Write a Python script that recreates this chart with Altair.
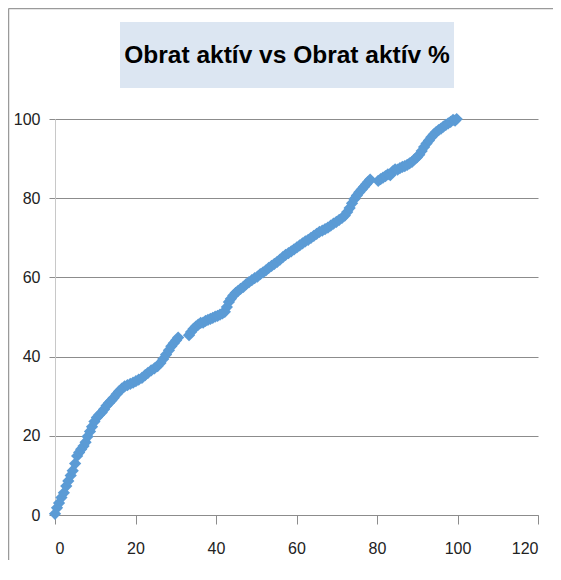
import altair as alt
import pandas as pd

# Segment 1
x1 = [0, 0.5, 1.0, 1.6, 2.2, 2.8, 3.3, 3.9, 4.4, 5.0, 5.5, 6.0, 6.5, 7.1, 7.6, 8.1, 8.7, 9.2, 9.8,
      10.4, 11.0, 11.6, 12.2, 12.8, 13.4, 14.0, 14.6, 15.3, 15.9, 16.6, 17.3, 18.0, 18.7, 19.4,
      20.1, 20.8, 21.6, 22.4, 23.1, 23.9, 24.7, 25.5, 26.2, 26.9, 27.6, 28.3, 28.9, 29.5, 30.1, 30.6]
y1 = [0.3, 1.8, 3.0, 4.4, 5.6, 7.3, 8.6, 10.0, 11.2, 13.0, 14.9, 15.8, 16.6, 17.4, 18.4, 19.8, 21.1,
      22.3, 23.6, 24.6, 25.3, 25.9, 26.7, 27.6, 28.3, 28.9, 29.6, 30.5, 31.2, 31.9, 32.5, 32.8, 33.1,
      33.4, 33.8, 34.2, 34.6, 35.3, 35.9, 36.5, 37.0, 37.6, 38.4, 39.4, 40.5, 41.6, 42.6, 43.4, 44.1, 44.8]

# Segment 2
x2 = [33.3, 33.8, 34.4, 35.0, 35.6, 36.2, 36.8, 37.4, 38.0, 38.6, 39.2, 39.8, 40.4, 41.0, 41.6, 42.2,
      42.7, 43.2, 43.7, 44.3, 44.9, 45.5, 46.1, 46.8, 47.5, 48.2, 48.9, 49.6, 50.3, 51.0, 51.7, 52.4,
      53.1, 53.8, 54.5, 55.2, 55.9, 56.6, 57.3, 58.0, 58.7, 59.4, 60.1, 60.8, 61.5, 62.2, 62.9, 63.6,
      64.3, 65.0, 65.7, 66.4, 67.1, 67.8, 68.5, 69.2, 69.9, 70.6, 71.3, 72.0, 72.6, 73.2, 73.8, 74.4,
      75.0, 75.6, 76.2, 76.8, 77.3, 77.8, 78.3]
y2 = [45.4, 46.2, 47.0, 47.6, 48.1, 48.5, 48.6, 49.0, 49.3, 49.5, 49.8, 50.1, 50.3, 50.6, 50.9, 51.3,
      52.5, 53.8, 54.6, 55.4, 56.1, 56.6, 57.1, 57.6, 58.3, 58.8, 59.3, 59.8, 60.2, 60.8, 61.3, 61.8,
      62.4, 62.9, 63.4, 63.9, 64.5, 65.1, 65.7, 66.1, 66.6, 67.1, 67.6, 68.1, 68.6, 69.1, 69.5, 70.0,
      70.5, 71.0, 71.5, 71.8, 72.2, 72.6, 73.1, 73.6, 74.0, 74.5, 75.0, 75.6, 76.5, 77.5, 78.7, 79.8,
      80.7, 81.5, 82.2, 82.9, 83.5, 84.1, 84.7]

# Segment 3
x3 = [80.3, 80.9, 81.5, 82.1, 82.7, 83.3, 83.9, 84.5, 85.1, 85.7, 86.3, 86.9, 87.5, 88.1, 88.7, 89.3,
      89.9, 90.5, 91.1, 91.7, 92.3, 92.9, 93.5, 94.1, 94.7, 95.3, 95.9, 96.5, 97.1, 97.7, 98.3, 98.9,
      99.4, 99.8]
y3 = [84.4, 84.8, 85.2, 85.6, 86.0, 85.8, 86.8, 87.3, 87.2, 87.6, 87.9, 88.1, 88.4, 88.8, 89.2, 89.8,
      90.3, 91.0, 91.9, 92.9, 93.8, 94.6, 95.4, 96.1, 96.7, 97.2, 97.6, 98.1, 98.5, 98.9, 99.3, 99.8,
      99.6, 100.0]

x_ticks = [0, 20, 40, 60, 80, 100, 120]
y_ticks = [0, 20, 40, 60, 80, 100]
title_text = "Obrat aktív vs Obrat aktív %"

df = pd.DataFrame({"x": x1 + x2 + x3, "y": y1 + y2 + y3})

FONT = "Liberation Sans Narrow, Liberation Sans, Arial, sans-serif"
GRID = "#8c8c8c"

points = alt.Chart(df).mark_point(
    shape="diamond", filled=True, size=150, color="#5B9BD5", opacity=1
).encode(
    x=alt.X("x:Q", scale=alt.Scale(domain=[0, 120], nice=False),
            axis=alt.Axis(values=x_ticks, title=None, grid=False, domainColor=GRID,
                          tickColor=GRID, tickSize=9, labelPadding=16, labelFontSize=16,
                          labelFont=FONT, labelColor="#222222")),
    y=alt.Y("y:Q", scale=alt.Scale(domain=[0, 100], nice=False),
            axis=alt.Axis(values=y_ticks, title=None, grid=True, gridColor=GRID,
                          domainColor="#c8c8c8", tickColor=GRID, tickSize=6, labelPadding=9,
                          labelFontSize=16, labelFont=FONT, labelColor="#222222")),
)

one = alt.Data(values=[{}])

box = alt.Chart(one).mark_rect(color="#DCE6F2").encode(
    x=alt.value(65), x2=alt.value(399), y=alt.value(-97), y2=alt.value(-31)
)
title = alt.Chart(one).mark_text(
    text=title_text, font=FONT, fontWeight="bold", fontSize=24.5, color="#000000",
    align="center", baseline="middle"
).encode(x=alt.value(232), y=alt.value(-63))

frame_top = alt.Chart(one).mark_rule(color="#9a9a9a", strokeWidth=1.5).encode(
    x=alt.value(-46.5), x2=alt.value(520), y=alt.value(-110.5)
)
frame_left = alt.Chart(one).mark_rule(color="#9a9a9a", strokeWidth=1.5).encode(
    x=alt.value(-46.5), y=alt.value(-110.5), y2=alt.value(460)
)

chart = alt.layer(box, title, frame_top, frame_left, points).properties(
    width=483, height=396,
    padding={"left": 47, "top": 111, "right": 15, "bottom": 45},
    autosize=alt.AutoSizeParams(type="none"),
).configure_view(stroke=None)

chart.save("out.html", embed_options={"renderer": "svg", "actions": False})
